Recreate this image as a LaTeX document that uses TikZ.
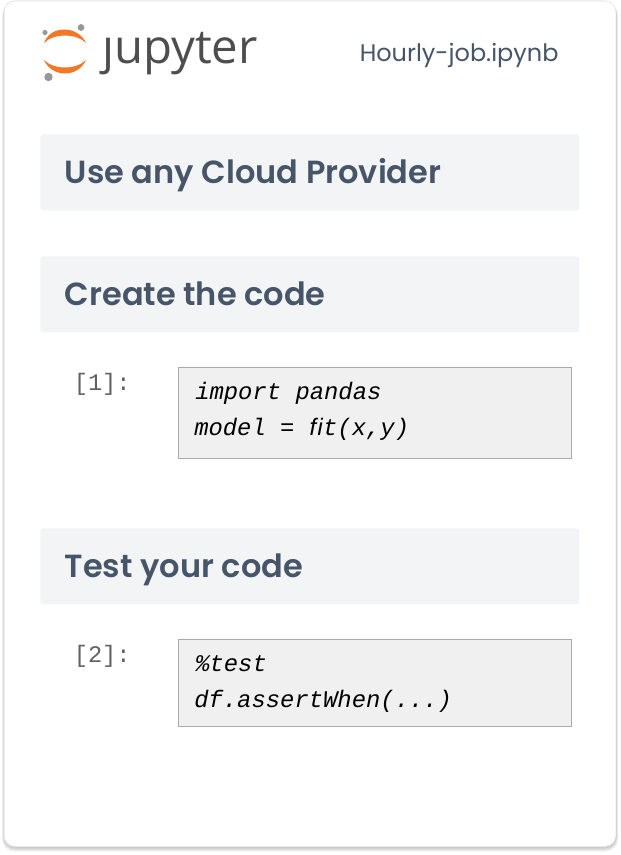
\documentclass[tikz,border=0pt]{standalone}
\usepackage{fontspec}
\setmainfont{Poppins}
\newfontfamily\semifont{Poppins SemiBold}
\newfontfamily\logofont{Open Sans}
\newfontfamily\promptfont{Liberation Mono}
\definecolor{headtext}{HTML}{475569}
\definecolor{headfill}{HTML}{F3F4F6}
\definecolor{cellfill}{HTML}{F0F0F0}
\definecolor{cellline}{HTML}{ABABAB}
\definecolor{promptcol}{HTML}{616161}
\definecolor{logoorange}{HTML}{F37726}
\definecolor{logogrey}{HTML}{989798}
\definecolor{logotext}{HTML}{4E4E4E}
\tikzset{
  headbar/.style={fill=headfill,rounded corners=2.25pt,anchor=north west,minimum width=404.25pt,minimum height=57pt,inner sep=0pt},
  headlabel/.style={anchor=base west,inner sep=0pt,text=headtext,font=\semifont\fontsize{24}{28}\selectfont},
  codecell/.style={draw=cellline,line width=0.75pt,fill=cellfill,anchor=north west,inner sep=0pt},
  codeline/.style={anchor=base west,inner sep=0pt,text=black,font=\promptfont\itshape\fontsize{17.9}{22}\selectfont},
  promptlabel/.style={anchor=base west,inner sep=0pt,text=promptcol,font=\promptfont\fontsize{17.8}{20}\selectfont},
}
\begin{document}
\begin{tikzpicture}[x=0.75pt,y=0.75pt,yscale=-1,xscale=1]
\useasboundingbox (0,0) rectangle (620,855);

% card
\foreach \d in {0,1,2,3,4}
  \fill [black,opacity=0.05,rounded corners=9pt] (4-\d*0.5,3) rectangle (616+\d*0.5,847.5+\d);
\fill [black!10,rounded corners=8.5pt] (3.5,0.5) rectangle (616,847);
\fill [white,rounded corners=8pt] (4.5,1.5) rectangle (615.5,846);

% logo
\fill [logoorange] (44,43) .. controls (50,25) and (78,25) .. (86,43) .. controls (76,33) and (54,33) .. (44,43) -- cycle;
\fill [logoorange] (44,60) .. controls (52,78) and (78,78) .. (86,60) .. controls (76,70) and (54,70) .. (44,60) -- cycle;
\fill [logogrey] (81,27.5) circle (3.4);
\fill [logogrey] (45,32.5) circle (2.6);
\fill [logogrey] (48.5,77) circle (4.2);
\node (logotext) [anchor=base west,inner sep=0pt,text=logotext,font=\logofont\fontsize{35.5}{40}\selectfont] at (102,64) {ȷupyter};
\node (filename) [anchor=base west,inner sep=0pt,text=headtext,font=\fontsize{18}{20}\selectfont] at (359.5,62) {Hourly-job.ipynb};

% first bar
\node (barcloud) [headbar] at (40,134) {};
\node (labelcloud) [headlabel] at (64.5,183.5) {Use any Cloud Provider};

% second bar
\node (barcreate) [headbar] at (40,256) {};
\node (labelcreate) [headlabel] at (64.5,305) {Create the code};

\node (promptone) [promptlabel] at (73.5,390) {[1]:};
\node (cellone) [codecell,minimum width=295pt,minimum height=68.25pt] at (178,367) {};
\node (lineonea) [codeline] at (195,399.5) {import pandas};
\node (lineoneb) [codeline] at (194,435.5) {model = ﬁt(x,y)};

% third bar
\node (bartest) [headbar] at (40,528) {};
\node (labeltest) [headlabel] at (64.5,577) {Test your code};

\node (prompttwo) [promptlabel] at (73.5,662) {[2]:};
\node (celltwo) [codecell,minimum width=295pt,minimum height=65.25pt] at (178,639) {};
\node (linetwoa) [codeline] at (195,671.5) {\%test};
\node (linetwob) [codeline] at (194,707.5) {df.assertWhen(...)};

\end{tikzpicture}
\end{document}
